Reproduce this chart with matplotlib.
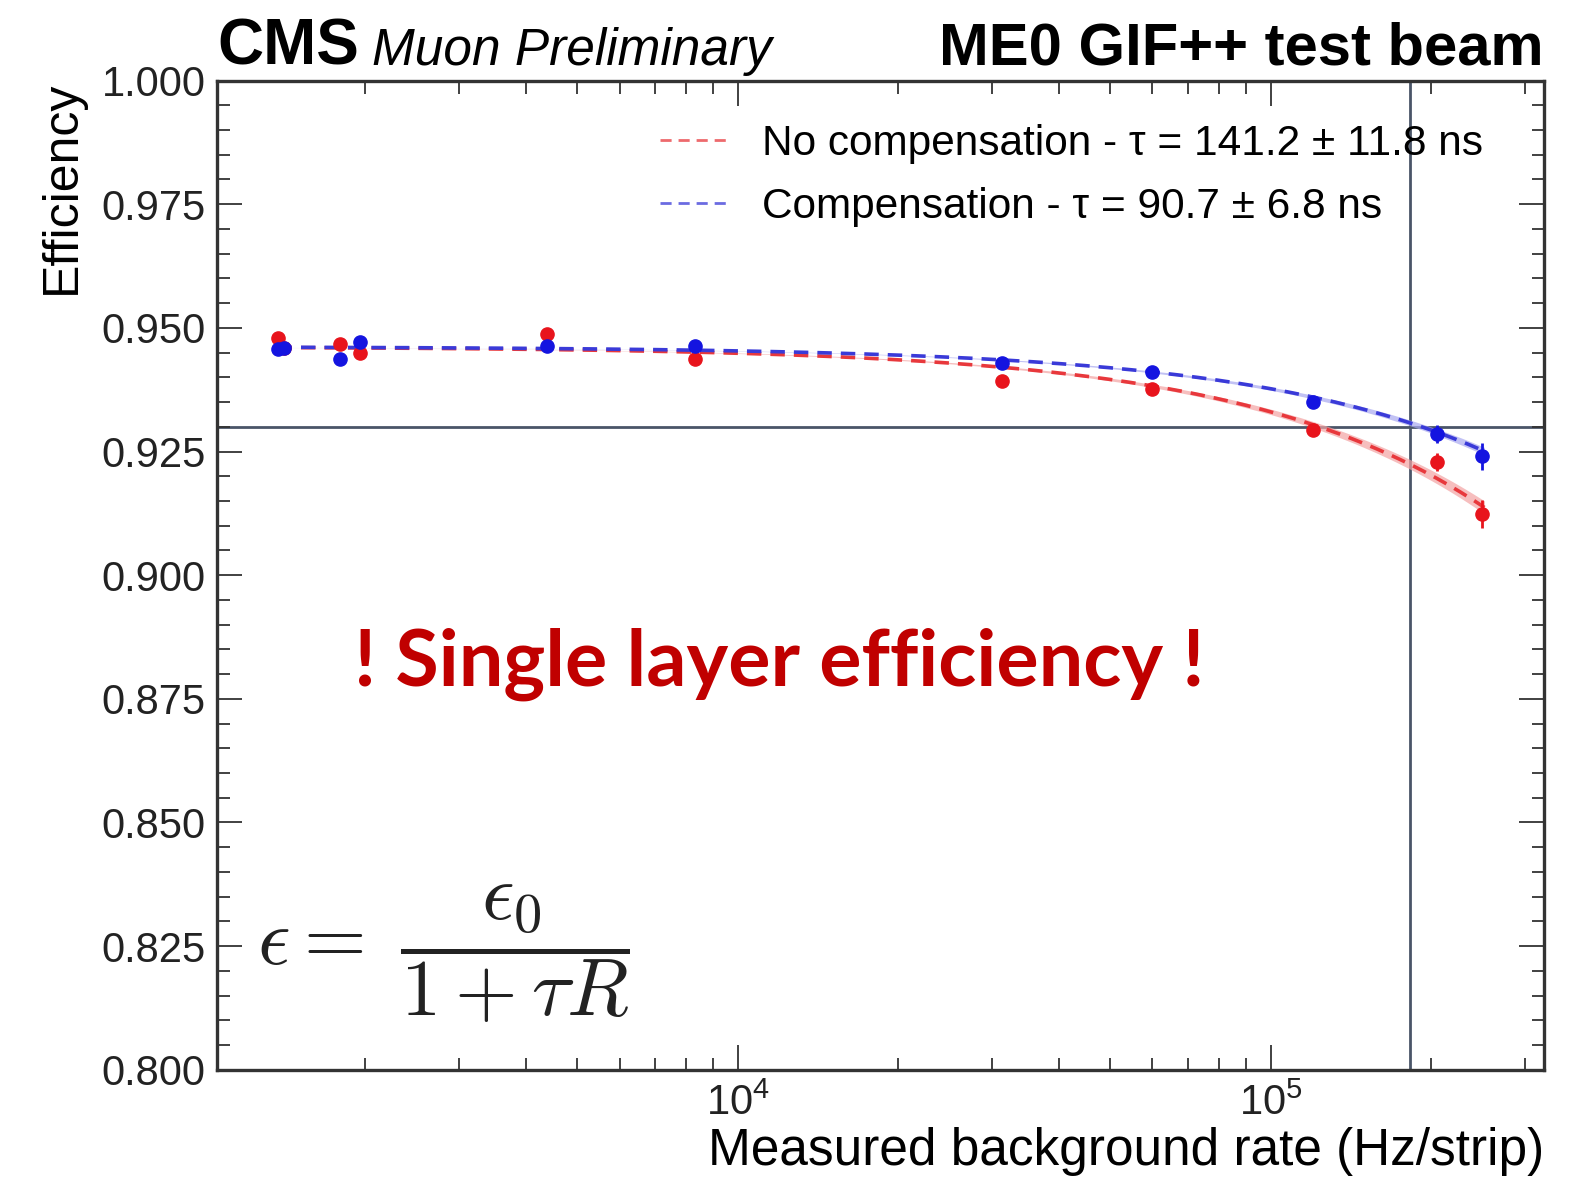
import numpy as np
import matplotlib
matplotlib.use("Agg")
import matplotlib.pyplot as plt
from matplotlib import ticker

plt.rcParams['font.family'] = ['Liberation Sans', 'DejaVu Sans']
plt.rcParams['mathtext.fontset'] = 'custom'
plt.rcParams['mathtext.rm'] = 'Liberation Sans'
plt.rcParams['mathtext.it'] = 'Liberation Sans:italic'

# measured background rate (Hz/strip)
rate = [1368, 1405, 1791, 1955, 4385, 8300, 31300, 59800, 1.20e5, 2.05e5, 2.49e5]
# no compensation
eff_nocomp = [0.9480, 0.9459, 0.9467, 0.9450, 0.9487, 0.9438, 0.9393, 0.9377, 0.9293, 0.9229, 0.9124]
err_nocomp = [0.0008, 0.0008, 0.0008, 0.0008, 0.0008, 0.0008, 0.0009, 0.0009, 0.0012, 0.0018, 0.0028]
# compensation
eff_comp = [0.9458, 0.9460, 0.9438, 0.9471, 0.9463, 0.9463, 0.9429, 0.9410, 0.9351, 0.9286, 0.9240]
err_comp = [0.0008, 0.0008, 0.0008, 0.0008, 0.0008, 0.0008, 0.0009, 0.0009, 0.0011, 0.0018, 0.0027]

# fit parameters, eps = eps0 / (1 + tau R)
eps0 = 0.9462
tau_nocomp, dtau_nocomp = 141.2e-9, 11.8e-9
tau_comp, dtau_comp = 90.7e-9, 6.8e-9

eff_line = 0.930
rate_line = 1.83e5

red = '#e8141c'
blue = '#1414e0'

fig = plt.figure(figsize=(15.78, 11.79), dpi=100)
ax = fig.add_axes([0.1375, 0.0926, 0.841, 0.8391])

R = np.logspace(np.log10(1368), np.log10(2.52e5), 300)
for tau, dtau, c, band, lab in [(tau_nocomp, dtau_nocomp, '#e8383c', '#f3a3a3', 'No compensation - τ = 141.2 ± 11.8 ns'),
                                (tau_comp, dtau_comp, '#3a3ad8', '#a8a8f0', 'Compensation - τ = 90.7 ± 6.8 ns')]:
    lo = eps0 / (1 + (tau + 0.5 * dtau) * R)
    hi = eps0 / (1 + (tau - 0.5 * dtau) * R)
    ax.fill_between(R, lo, hi, color=band, alpha=0.7, lw=0, zorder=2)
    ax.plot(R, eps0 / (1 + tau * R), ls=(0, (4, 2.5)), color=c, lw=2.6, label=lab, zorder=3)

ax.errorbar(rate, eff_nocomp, yerr=err_nocomp, fmt='o', color=red, ms=9.5, elinewidth=2, capsize=0, zorder=4)
ax.errorbar(rate, eff_comp, yerr=err_comp, fmt='o', color=blue, ms=9.5, elinewidth=2, capsize=0, zorder=5)

ax.axhline(eff_line, color='#4a5568', lw=2, zorder=1)
ax.axvline(rate_line, color='#4a5568', lw=2, zorder=1)

ax.set_xscale('log')
ax.set_xlim(1053, 3.26e5)
ax.set_ylim(0.8, 1.0)
ax.yaxis.set_major_locator(ticker.MultipleLocator(0.025))
ax.yaxis.set_minor_locator(ticker.MultipleLocator(0.005))
ax.yaxis.set_major_formatter(ticker.FormatStrFormatter('%.3f'))
ax.xaxis.set_major_locator(ticker.LogLocator(base=10))
ax.xaxis.set_minor_locator(ticker.LogLocator(base=10, subs=np.arange(2, 10)))
ax.xaxis.set_minor_formatter(ticker.NullFormatter())
ax.xaxis.set_major_formatter(ticker.LogFormatterMathtext())

ax.tick_params(which='both', direction='in', top=True, right=True, colors='#333333', width=1.3)
ax.tick_params(which='major', length=18, labelsize=30, labelcolor='#222222', pad=8)
ax.tick_params(which='minor', length=9)
ax.tick_params(axis='x', which='major', labelsize=30, pad=10)
for s in ax.spines.values():
    s.set_linewidth(2.4)
    s.set_color('#333333')

ax.set_ylabel('Efficiency', fontsize=36, loc='top', labelpad=12)
ax.set_xlabel('Measured background rate (Hz/strip)', fontsize=37, loc='right', labelpad=2)

leg = ax.legend(loc='upper left', bbox_to_anchor=(0.305, 0.995), frameon=False, fontsize=30.5,
                handlelength=1.6, handletextpad=0.8, labelspacing=0.55)
for h in leg.get_lines():
    h.set_linewidth(2)
    h.set_alpha(0.75)

ax.text(0.424, 0.41, '! Single layer efficiency !', transform=ax.transAxes, ha='center', va='center',
        fontsize=57, fontweight='bold', color='#c00000', family=['Lato', 'DejaVu Sans'])
ax.text(0.03, 0.117, r'$\epsilon = \;\dfrac{\epsilon_0}{1+\tau R}$', transform=ax.transAxes, ha='left', va='center',
        fontsize=58, math_fontfamily='cm', color='#222222')

fig.text(0.138, 0.945, 'CMS', fontsize=46, fontweight='bold', ha='left', va='baseline')
fig.text(0.236, 0.945, 'Muon Preliminary', fontsize=37, style='italic', ha='left', va='baseline')
fig.text(0.978, 0.945, 'ME0 GIF++ test beam', fontsize=43, fontweight='bold', ha='right', va='baseline')

fig.savefig('out.png', dpi=100)
